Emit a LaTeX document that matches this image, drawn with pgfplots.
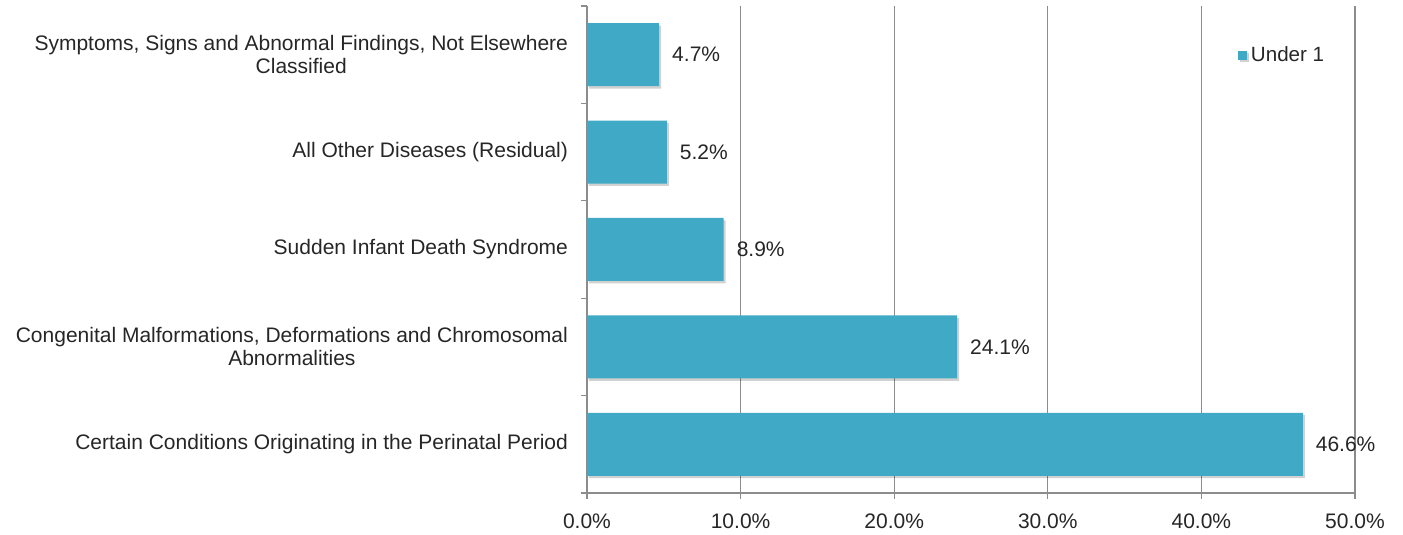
\documentclass[border=0pt]{standalone}
\usepackage{pgfplots}
\pgfplotsset{compat=1.18}
\usepackage{fontspec}
\setmainfont{Liberation Sans}
\definecolor{barcol}{RGB}{64,170,198}
\definecolor{txt}{RGB}{38,38,38}
\definecolor{gridc}{RGB}{140,140,140}
\begin{document}
\begin{tikzpicture}
\useasboundingbox (-293.5pt,-21pt) rectangle (408pt,246.5pt);
\begin{axis}[
  at={(0,0)}, anchor=south west,
  scale only axis, width=384pt, height=243.5pt,
  xbar, bar width=31.5pt,
  xmin=0, xmax=50, ymin=0.5, ymax=5.5,
  axis lines=left,
  axis line style={-, draw=gridc, line width=0.7pt},
  xtick={0,10,...,50}, minor xtick={0,10,...,50},
  ytick={1,...,5}, minor ytick={0.5,1.5,...,5.5},
  yticklabels={
    Certain Conditions Originating in the Perinatal Period,
    {Congenital Malformations, Deformations and Chromosomal\\Abnormalities},
    Sudden Infant Death Syndrome,
    All Other Diseases (Residual),
    {Symptoms, Signs and Abnormal Findings, Not Elsewhere\\Classified}},
  major tick length=0pt, minor tick length=3pt, tick align=outside,
  tick style={draw=gridc, line width=0.6pt},
  xmajorgrids, major grid style={draw=gridc, line width=0.6pt},
  xticklabel={\pgfmathprintnumber[fixed,fixed zerofill,precision=1]{\tick}\%},
  /pgf/number format/assume math mode=true,
  ticklabel style={font=\fontsize{10.5}{11.5}\selectfont, text=txt},
  yticklabel style={align=center, xshift=-6pt},
  xticklabel style={yshift=-7pt},
  nodes near coords={\pgfmathprintnumber[fixed,fixed zerofill,precision=1]{\pgfplotspointmeta}\%},
  nodes near coords align={horizontal},
  every node near coord/.append style={font=\fontsize{10.5}{12}\selectfont, text=txt, xshift=3pt},
  legend style={at={(0.839,0.899)}, anchor=west, draw=none, fill=none,
    font=\fontsize{10.3}{12}\selectfont, text=txt},
  legend image code/.code={\fill[barcol] (-1.5pt,-2.3pt) rectangle (3.1pt,2.3pt);},
  clip=false,
]
\addplot[fill=barcol, draw=none,
  preaction={fill=black, opacity=0.18, transform canvas={xshift=1pt, yshift=-1.2pt}}]
  coordinates {(46.6,1) (24.1,2) (8.9,3) (5.2,4) (4.7,5)};
\legend{Under 1}
\end{axis}
\end{tikzpicture}
\end{document}
